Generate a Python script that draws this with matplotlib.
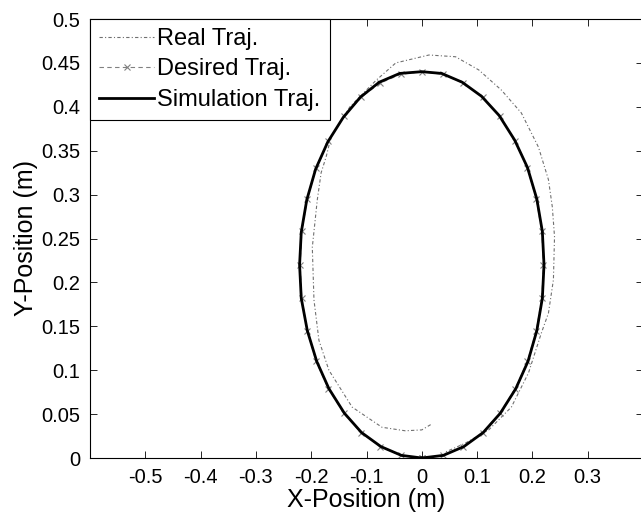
import numpy as np
import matplotlib
matplotlib.use('Agg')
import matplotlib.pyplot as plt
from matplotlib.ticker import FuncFormatter

plt.rcParams['font.family'] = ['Liberation Sans', 'DejaVu Sans']
plt.rcParams['axes.unicode_minus'] = False

# ---------------- dados ----------------
# trajetória desejada (elipse) - pontos lidos a cada ~10 graus
des_x = [0.0, 0.038, 0.075, 0.110, 0.141, 0.169, 0.191, 0.207, 0.217, 0.220,
         0.217, 0.207, 0.191, 0.169, 0.141, 0.110, 0.075, 0.038, 0.0,
         -0.038, -0.075, -0.110, -0.141, -0.169, -0.191, -0.207, -0.217, -0.220,
         -0.217, -0.207, -0.191, -0.169, -0.141, -0.110, -0.075, -0.038, 0.0]
des_y = [0.0, 0.003, 0.013, 0.029, 0.051, 0.079, 0.110, 0.145, 0.182, 0.220,
         0.258, 0.295, 0.330, 0.361, 0.389, 0.411, 0.427, 0.437, 0.440,
         0.437, 0.427, 0.411, 0.389, 0.361, 0.330, 0.295, 0.258, 0.220,
         0.182, 0.145, 0.110, 0.079, 0.051, 0.029, 0.013, 0.003, 0.0]

# simulação (quase sobreposta à desejada)
sim_x = [0.0, 0.039, 0.076, 0.111, 0.142, 0.170, 0.192, 0.208, 0.218, 0.221,
         0.218, 0.208, 0.191, 0.168, 0.140, 0.108, 0.073, 0.036, 0.0,
         -0.040, -0.077, -0.111, -0.142, -0.170, -0.192, -0.208, -0.218, -0.221,
         -0.218, -0.207, -0.190, -0.168, -0.140, -0.109, -0.074, -0.037, 0.0]
sim_y = [0.0, 0.003, 0.013, 0.029, 0.051, 0.079, 0.110, 0.145, 0.182, 0.220,
         0.258, 0.295, 0.331, 0.362, 0.390, 0.412, 0.428, 0.438, 0.440,
         0.438, 0.428, 0.411, 0.388, 0.360, 0.329, 0.294, 0.257, 0.220,
         0.182, 0.145, 0.110, 0.079, 0.051, 0.029, 0.013, 0.003, 0.0]

# trajetória real (medida)
real_x = [0.016, 0.0, -0.030, -0.072, -0.126, -0.168, -0.186, -0.195, -0.198,
          -0.189, -0.182, -0.173, -0.164, -0.130, -0.083, -0.047, 0.013, 0.061,
          0.103, 0.144, 0.180, 0.211, 0.229, 0.236, 0.240, 0.238, 0.229, 0.216,
          0.193, 0.162, 0.121, 0.079, 0.040]
real_y = [0.038, 0.032, 0.031, 0.035, 0.058, 0.100, 0.134, 0.180, 0.240,
          0.294, 0.325, 0.343, 0.366, 0.400, 0.430, 0.450, 0.459, 0.457,
          0.442, 0.419, 0.393, 0.354, 0.317, 0.286, 0.252, 0.203, 0.165, 0.142,
          0.097, 0.058, 0.032, 0.017, 0.006]

x_ticks = [-0.5, -0.4, -0.3, -0.2, -0.1, 0, 0.1, 0.2, 0.3]
y_ticks = [0, 0.05, 0.1, 0.15, 0.2, 0.25, 0.3, 0.35, 0.4, 0.45, 0.5]

# ---------------- figura ----------------
W, H = 641, 516
fig = plt.figure(figsize=(W / 100, H / 100), dpi=100, facecolor='white')
# eixo direito fica praticamente na borda da imagem (como no original)
ax = fig.add_axes([90 / W, (H - 458) / H, (643 - 90) / W, (458 - 19) / H])

ax.plot(real_x, real_y, color='#707070', lw=0.8, ls=(0, (3, 2, 1, 2)),
        label='Real Traj.')
ax.plot(des_x, des_y, color='#808080', lw=0.8, ls=(0, (4, 3)), marker='x',
        markersize=4, markeredgewidth=0.8, label='Desired Traj.')
ax.plot(sim_x, sim_y, color='black', lw=2.0, label='Simulation Traj.')

ax.set_xlim(-0.6, 0.4)
ax.set_ylim(0, 0.5)
ax.set_xticks(x_ticks)
ax.set_yticks(y_ticks)
fmt = FuncFormatter(lambda v, p: f'{v:g}')
ax.xaxis.set_major_formatter(fmt)
ax.yaxis.set_major_formatter(fmt)
ax.tick_params(direction='in', top=True, right=True, labelsize=14.5,
               length=5, width=0.6, pad=7)
for s in ax.spines.values():
    s.set_linewidth(0.8)

ax.set_xlabel('X-Position (m)', fontsize=18, labelpad=1)
ax.set_ylabel('Y-Position (m)', fontsize=18, labelpad=2)

leg = ax.legend(loc='upper left', fontsize=17, frameon=True, fancybox=False,
                edgecolor='black', framealpha=1, borderaxespad=0,
                handlelength=2.35, handletextpad=0.12, labelspacing=0.36,
                borderpad=0.38)
leg.get_frame().set_linewidth(0.8)

fig.savefig('out.png', dpi=100, facecolor='white')
